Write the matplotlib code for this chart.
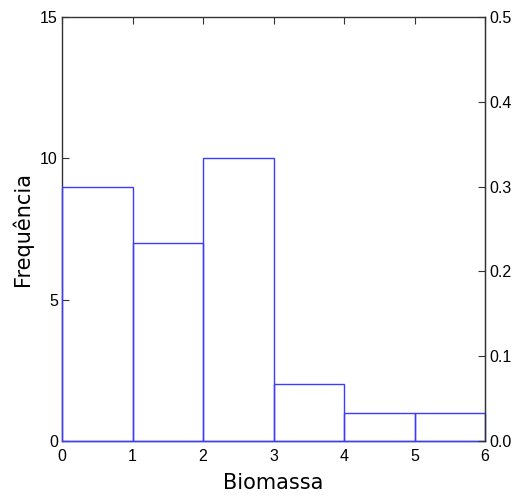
import numpy as np
import matplotlib.pyplot as plt

plt.rcParams['font.family'] = ['Liberation Sans', 'DejaVu Sans']

# histogram counts per unit bin of biomass
bin_edges = [0, 1, 2, 3, 4, 5, 6]
counts = [9, 7, 10, 2, 1, 1]
total = sum(counts)

fig = plt.figure(figsize=(5.16, 4.97), dpi=100)
ax = fig.add_axes([62 / 516, 1 - 441 / 497, 423 / 516, 424 / 497])

ax.bar(bin_edges[:-1], counts, width=1, align='edge', facecolor='none',
       edgecolor='#3c3cff', linewidth=1.0, zorder=3, clip_on=False)

ax.set_xlim(0, 6)
ax.set_ylim(0, 15)
ax.set_xticks(range(0, 7))
ax.set_yticks([0, 5, 10, 15])
ax.tick_params(direction='in', length=5, labelsize=11.5, top=True, color='#333333', pad=3)
ax.tick_params(axis='x', bottom=False, pad=6)
for s in ax.spines.values():
    s.set_color('#333333')
    s.set_linewidth(1.0)

ax2 = ax.twinx()
ax2.set_ylim(0, 15 / total)
ax2.set_yticks([0.0, 0.1, 0.2, 0.3, 0.4, 0.5])
ax2.set_yticklabels(['0.0', '0.1', '0.2', '0.3', '0.4', '0.5'])
ax2.tick_params(direction='in', length=5, labelsize=11.5, color='#333333', pad=3)
for side in ['top', 'bottom', 'left']:
    ax2.spines[side].set_visible(False)
ax2.spines['right'].set_color('#333333')

ax.set_xlabel('Biomassa', fontsize=15, family='DejaVu Sans', labelpad=6)
ax.set_ylabel('Frequência', fontsize=15, family='DejaVu Sans', labelpad=5)

fig.savefig('out.png', dpi=100)
